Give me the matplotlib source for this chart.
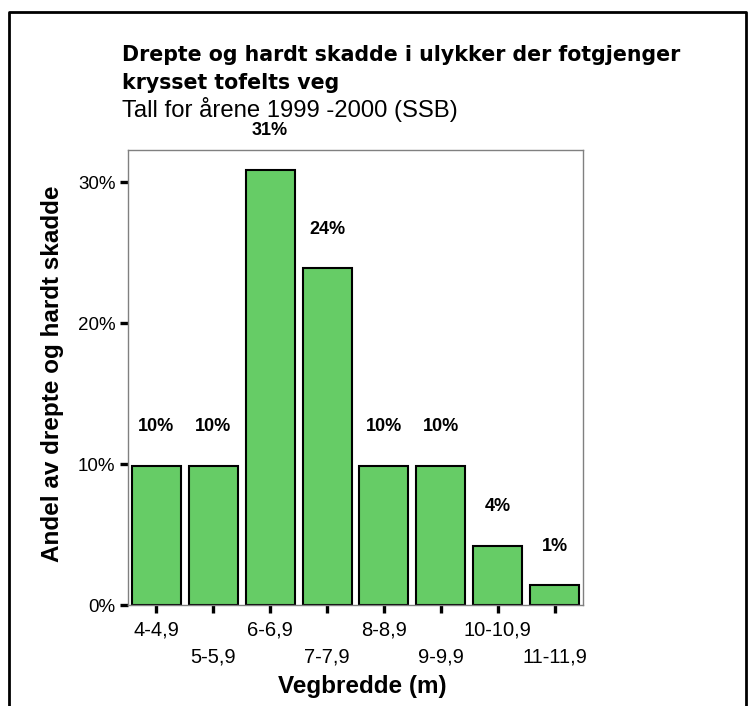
import matplotlib
matplotlib.use('Agg')
import matplotlib.pyplot as plt
from matplotlib.lines import Line2D
from matplotlib.ticker import FuncFormatter

plt.rcParams['font.family'] = ['Liberation Sans', 'DejaVu Sans']

# data
categories = ['4-4,9', '5-5,9', '6-6,9', '7-7,9', '8-8,9', '9-9,9', '10-10,9', '11-11,9']
shares = [9.9, 9.9, 30.9, 23.9, 9.9, 9.9, 4.2, 1.4]
labels = ['10%', '10%', '31%', '24%', '10%', '10%', '4%', '1%']

W, H = 754, 706
fig = plt.figure(figsize=(W / 100, H / 100), dpi=100)
ax = fig.add_axes([128 / W, 1 - 605 / H, 455 / W, 455 / H])

x = list(range(len(categories)))
bars = ax.bar(x, shares, width=0.86, color='#66CC66', edgecolor='black', linewidth=1.5)

for b, lab in zip(bars, labels):
    ax.annotate(lab, (b.get_x() + b.get_width() / 2, b.get_height()),
                xytext=(0, 28), textcoords='offset points',
                ha='center', va='center', fontsize=13, fontweight='bold')

ax.set_xlim(-0.5, 7.5)
ax.set_ylim(0, 32.3)
ax.set_yticks([0, 10, 20, 30])
ax.yaxis.set_major_formatter(FuncFormatter(lambda v, p: '%d%%' % v))
ax.set_xticks(x)
ax.set_xticklabels(['' for c in categories])
# staggered category labels
for i, c in enumerate(categories):
    ax.annotate(c, (i, 0), xycoords=('data', 'axes fraction'),
                xytext=(0, -18 if i % 2 == 0 else -37.5), textcoords='offset points',
                ha='center', va='center', fontsize=14.5)

ax.tick_params(axis='both', direction='out', length=6, width=2.4, color='black', labelsize=13.5)
ax.tick_params(axis='y', pad=3)
for s in ax.spines.values():
    s.set_color('#808080')
    s.set_linewidth(1)

fig.text(362 / W, 1 - 687 / H, 'Vegbredde (m)', fontsize=17.5, fontweight='bold',
         ha='center', va='center')
fig.text(53 / W, 1 - 374 / H, 'Andel av drepte og hardt skadde', fontsize=17.5,
         fontweight='bold', rotation=90, ha='center', va='center')

fig.text(122 / W, 1 - 55 / H, 'Drepte og hardt skadde i ulykker der fotgjenger',
         fontsize=14.8, fontweight='bold', family='DejaVu Sans', ha='left', va='center')
fig.text(122 / W, 1 - 83 / H, 'krysset tofelts veg',
         fontsize=14.8, fontweight='bold', family='DejaVu Sans', ha='left', va='center')
fig.text(122 / W, 1 - 110 / H, 'Tall for årene 1999 -2000 (SSB)',
         fontsize=17.2, ha='left', va='center')

# outer frame (no bottom edge visible)
l, r, t = 9 / W, 746 / W, 1 - 12 / H
fig.add_artist(Line2D([l, l, r, r], [0, t, t, 0], transform=fig.transFigure,
                      color='black', linewidth=2))

fig.savefig('out.png', dpi=100)
